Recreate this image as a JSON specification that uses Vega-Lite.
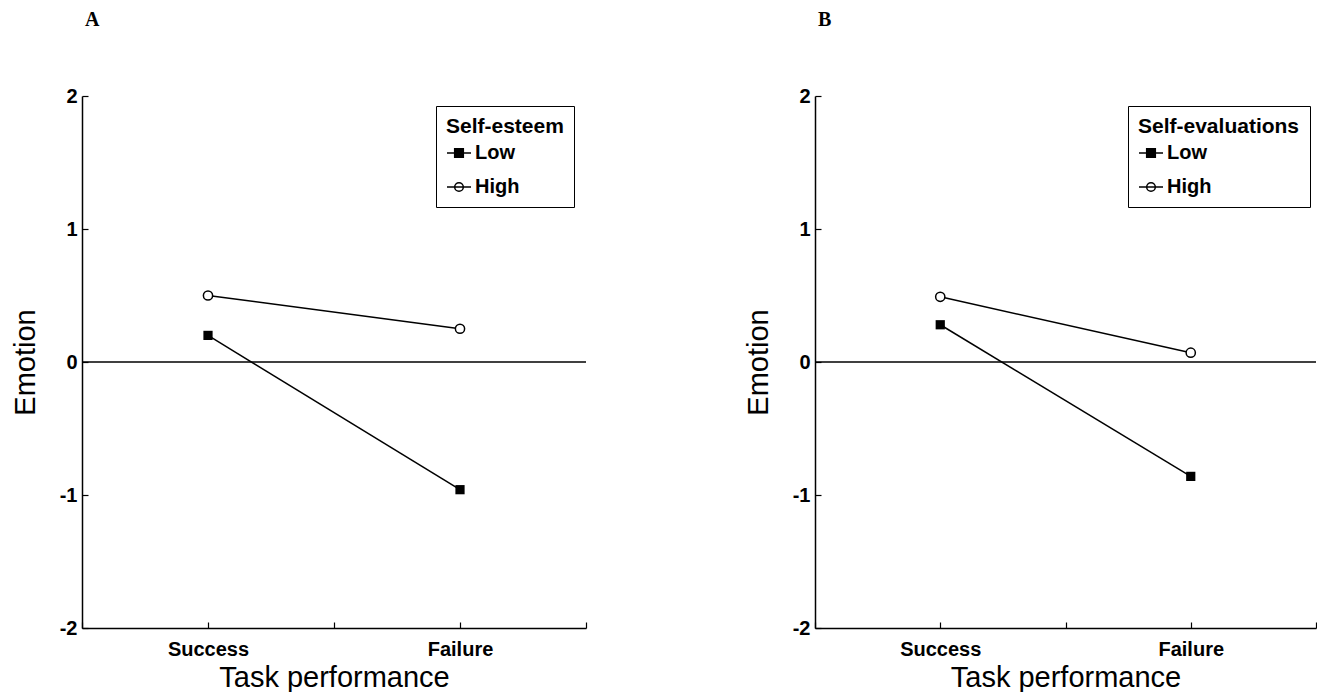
{
  "$schema": "https://vega.github.io/schema/vega-lite/v6.json",
  "background": "white",
  "padding": {"left": 11, "top": 10, "right": 0, "bottom": 0},
  "datasets": {
    "a": [
      {"performance": "Success", "level": "Low", "emotion": 0.20},
      {"performance": "Success", "level": "High", "emotion": 0.50},
      {"performance": "Failure", "level": "Low", "emotion": -0.96},
      {"performance": "Failure", "level": "High", "emotion": 0.25}
    ],
    "b": [
      {"performance": "Success", "level": "Low", "emotion": 0.28},
      {"performance": "Success", "level": "High", "emotion": 0.49},
      {"performance": "Failure", "level": "Low", "emotion": -0.86},
      {"performance": "Failure", "level": "High", "emotion": 0.07}
    ]
  },
  "config": {
    "view": {"stroke": null},
    "font": "Liberation Sans",
    "axis": {
      "grid": false,
      "domainColor": "black",
      "domainWidth": 1.5,
      "tickColor": "black",
      "tickWidth": 1.2,
      "tickSize": -6,
      "labelColor": "black",
      "labelFont": "Liberation Sans",
      "labelFontSize": 20,
      "labelFontWeight": "bold",
      "titleFont": "Liberation Sans",
      "titleFontSize": 29,
      "titleFontWeight": "normal",
      "titleColor": "black"
    },
    "legend": {
      "orient": "none",
      "strokeColor": "black",
      "padding": 10,
      "rowPadding": 11,
      "titleFont": "Liberation Sans",
      "titleFontSize": 21,
      "titleFontWeight": "bold",
      "titleColor": "black",
      "titlePadding": 3,
      "labelFont": "Liberation Sans",
      "labelFontSize": 20,
      "labelFontWeight": "bold",
      "labelColor": "black",
      "labelOffset": 3,
      "symbolSize": 576
    }
  },
  "spacing": 157,
  "resolve": {
    "scale": {"shape": "independent", "fill": "independent"},
    "legend": {"shape": "independent", "fill": "independent"}
  },
  "hconcat": [
    {
      "title": {"text": "A", "anchor": "start", "frame": "group", "font": "Liberation Serif", "fontSize": 20, "fontWeight": "bold", "color": "black", "dx": 3, "offset": 56},
      "width": 504,
      "height": 532,
      "layer": [
        {
          "data": {"values": [{}]},
          "mark": {"type": "rule", "color": "black", "strokeWidth": 1.5},
          "encoding": {"y": {"datum": 0, "type": "quantitative"}}
        },
        {
          "data": {"name": "a"},
          "mark": {"type": "line", "color": "black", "strokeWidth": 1.5},
          "encoding": {
            "x": {"field": "performance", "type": "ordinal", "scale": {"type": "point", "domain": ["a0", "Success", "a2", "Failure", "a4"], "padding": 0}, "axis": {"title": "Task performance", "labelAngle": 0, "labelPadding": 17, "titlePadding": 4, "labelExpr": "datum.value == 'Success' || datum.value == 'Failure' ? datum.value : ''"}},
            "y": {"field": "emotion", "type": "quantitative", "scale": {"domain": [-2, 2], "nice": false, "zero": false}, "axis": {"title": "Emotion", "values": [-2, -1, 0, 1, 2], "labelPadding": 11, "titlePadding": 19, "labelExpr": "datum.value + ''"}},
            "detail": {"field": "level"}
          }
        },
        {
          "data": {"name": "a"},
          "mark": {"type": "point", "size": 0, "strokeWidth": 1.5, "stroke": "black", "opacity": 1},
          "encoding": {
            "x": {"field": "performance", "type": "ordinal"},
            "y": {"field": "emotion", "type": "quantitative"},
            "fill": {"field": "level", "type": "nominal", "scale": {"domain": ["Low", "High"], "range": ["black", "white"]}, "legend": null},
            "shape": {"field": "level", "type": "nominal", "scale": {"domain": ["Low", "High"], "range": ["M-1,0H1M-0.36,-0.36H0.36V0.36H-0.36Z", "M-1,0H1M-0.36,0A0.36,0.36 0 1,0 0.36,0A0.36,0.36 0 1,0 -0.36,0"]},
              "legend": {
                "title": "Self-esteem",
                "legendX": 354,
                "legendY": 10,
                "encode": {
                  "symbols": {
                    "stroke": {"value": "black"},
                    "strokeWidth": {"value": 1.5},
                    "opacity": {"value": 1}
                  },
                  "legend": {"strokeWidth": {"value": 1.5}}
                }
              }
            }
          }
        },
        {
          "data": {"name": "a"},
          "transform": [{"filter": "datum.level === 'Low'"}],
          "mark": {"type": "square", "size": 85, "color": "black", "opacity": 1},
          "encoding": {
            "x": {"field": "performance", "type": "ordinal"},
            "y": {"field": "emotion", "type": "quantitative"}
          }
        },
        {
          "data": {"name": "a"},
          "transform": [{"filter": "datum.level === 'High'"}],
          "mark": {"type": "point", "shape": "circle", "size": 85, "fill": "white", "stroke": "black", "strokeWidth": 1.5, "opacity": 1, "filled": true},
          "encoding": {
            "x": {"field": "performance", "type": "ordinal"},
            "y": {"field": "emotion", "type": "quantitative"}
          }
        }
      ]
    },
    {
      "title": {"text": "B", "anchor": "start", "frame": "group", "font": "Liberation Serif", "fontSize": 20, "fontWeight": "bold", "color": "black", "dx": 3, "offset": 56},
      "width": 501,
      "height": 532,
      "layer": [
        {
          "data": {"values": [{}]},
          "mark": {"type": "rule", "color": "black", "strokeWidth": 1.5},
          "encoding": {"y": {"datum": 0, "type": "quantitative"}}
        },
        {
          "data": {"name": "b"},
          "mark": {"type": "line", "color": "black", "strokeWidth": 1.5},
          "encoding": {
            "x": {"field": "performance", "type": "ordinal", "scale": {"type": "point", "domain": ["a0", "Success", "a2", "Failure", "a4"], "padding": 0}, "axis": {"title": "Task performance", "labelAngle": 0, "labelPadding": 17, "titlePadding": 4, "labelExpr": "datum.value == 'Success' || datum.value == 'Failure' ? datum.value : ''"}},
            "y": {"field": "emotion", "type": "quantitative", "scale": {"domain": [-2, 2], "nice": false, "zero": false}, "axis": {"title": "Emotion", "values": [-2, -1, 0, 1, 2], "labelPadding": 11, "titlePadding": 19, "labelExpr": "datum.value + ''"}},
            "detail": {"field": "level"}
          }
        },
        {
          "data": {"name": "b"},
          "mark": {"type": "point", "size": 0, "strokeWidth": 1.5, "stroke": "black", "opacity": 1},
          "encoding": {
            "x": {"field": "performance", "type": "ordinal"},
            "y": {"field": "emotion", "type": "quantitative"},
            "fill": {"field": "level", "type": "nominal", "scale": {"domain": ["Low", "High"], "range": ["black", "white"]}, "legend": null},
            "shape": {"field": "level", "type": "nominal", "scale": {"domain": ["Low", "High"], "range": ["M-1,0H1M-0.36,-0.36H0.36V0.36H-0.36Z", "M-1,0H1M-0.36,0A0.36,0.36 0 1,0 0.36,0A0.36,0.36 0 1,0 -0.36,0"]},
              "legend": {
                "title": "Self-evaluations",
                "legendX": 313,
                "legendY": 10,
                "encode": {
                  "symbols": {
                    "stroke": {"value": "black"},
                    "strokeWidth": {"value": 1.5},
                    "opacity": {"value": 1}
                  },
                  "legend": {"strokeWidth": {"value": 1.5}}
                }
              }
            }
          }
        },
        {
          "data": {"name": "b"},
          "transform": [{"filter": "datum.level === 'Low'"}],
          "mark": {"type": "square", "size": 85, "color": "black", "opacity": 1},
          "encoding": {
            "x": {"field": "performance", "type": "ordinal"},
            "y": {"field": "emotion", "type": "quantitative"}
          }
        },
        {
          "data": {"name": "b"},
          "transform": [{"filter": "datum.level === 'High'"}],
          "mark": {"type": "point", "shape": "circle", "size": 85, "fill": "white", "stroke": "black", "strokeWidth": 1.5, "opacity": 1, "filled": true},
          "encoding": {
            "x": {"field": "performance", "type": "ordinal"},
            "y": {"field": "emotion", "type": "quantitative"}
          }
        }
      ]
    }
  ]
}
